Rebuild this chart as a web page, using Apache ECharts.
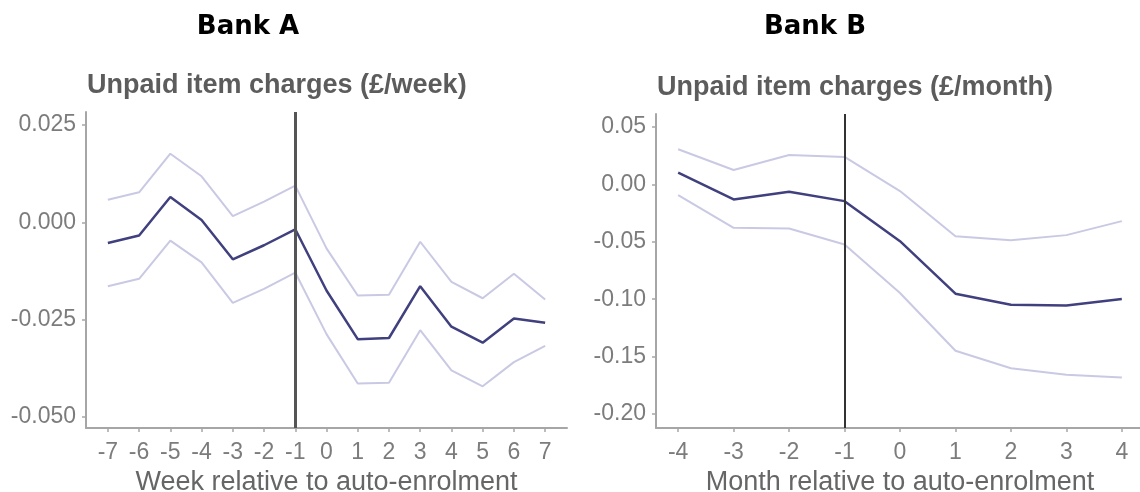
<!DOCTYPE html>
<html>
<head>
    <meta charset="utf-8">
    <title>Unpaid item charges</title>
    <script src="https://cdn.jsdelivr.net/npm/echarts@6.0.0/dist/echarts.min.js"></script>
    <style>
        html, body { margin: 0; padding: 0; background: #fff; }
        #main { width: 1140px; height: 492px; }
    </style>
</head>
<body>
<div id="main"></div>
<script type="text/javascript">
    // Bank A: weekly estimates with upper / lower bands
    var weeksA = [-7, -6, -5, -4, -3, -2, -1, 0, 1, 2, 3, 4, 5, 6, 7];
    var estA   = [-0.0053, -0.0034, 0.0065, 0.0006, -0.0095, -0.0059, -0.0018, -0.0175, -0.0300, -0.0297, -0.0164, -0.0268, -0.0309, -0.0247, -0.0258];
    var upperA = [0.0058, 0.0077, 0.0176, 0.0118, 0.0016, 0.0053, 0.0094, -0.0067, -0.0188, -0.0186, -0.0050, -0.0153, -0.0195, -0.0132, -0.0198];
    var lowerA = [-0.0164, -0.0145, -0.0047, -0.0103, -0.0207, -0.0171, -0.0129, -0.0287, -0.0414, -0.0412, -0.0277, -0.0380, -0.0421, -0.0359, -0.0317];
    var yTicksA = [0.025, 0, -0.025, -0.05];

    // Bank B: monthly estimates with upper / lower bands
    var monthsB = [-4, -3, -2, -1, 0, 1, 2, 3, 4];
    var estB   = [0.0102, -0.0131, -0.0064, -0.0146, -0.0495, -0.0952, -0.1048, -0.1056, -0.0998];
    var upperB = [0.0306, 0.0125, 0.0256, 0.0239, -0.0058, -0.0451, -0.0486, -0.0442, -0.0320];
    var lowerB = [-0.0093, -0.0378, -0.0384, -0.0524, -0.0946, -0.1449, -0.1601, -0.1659, -0.1682];
    var yTicksB = [0.05, 0, -0.05, -0.10, -0.15, -0.20];

    var eventX = -1;

    var axisGrey = '#a6a6a6';
    var labelGrey = '#7c7c7c';

    function pairs(xs, ys) {
        return xs.map(function (x, i) { return [x, ys[i]]; });
    }

    function xAxisCfg(idx, ticks, lim, name) {
        return {
            type: 'value', gridIndex: idx, min: -lim, max: lim,
            name: name, nameLocation: 'middle', nameGap: 39,
            nameTextStyle: { fontFamily: 'Liberation Sans', fontSize: 27, color: '#666' },
            splitLine: { show: false },
            axisLine: { onZero: false, lineStyle: { color: axisGrey, width: 2 } },
            axisTick: { customValues: ticks, length: 4, lineStyle: { color: axisGrey, width: 1.5 } },
            axisLabel: {
                customValues: ticks, margin: 13,
                fontFamily: 'Liberation Sans', fontSize: 23, color: labelGrey
            }
        };
    }

    function yAxisCfg(idx, ticks, min, max, digits) {
        return {
            type: 'value', gridIndex: idx, min: min, max: max,
            splitLine: { show: false },
            axisLine: { show: true, onZero: false, lineStyle: { color: axisGrey, width: 2 } },
            axisTick: { show: true, customValues: ticks, length: 4, lineStyle: { color: axisGrey, width: 1.5 } },
            axisLabel: {
                customValues: ticks, margin: 10,
                fontFamily: 'Liberation Sans', fontSize: 23, color: labelGrey,
                formatter: function (v) { return v.toFixed(digits); }
            }
        };
    }

    function bandSeries(idx, data) {
        return {
            type: 'line', xAxisIndex: idx, yAxisIndex: idx, data: data,
            symbol: 'none', lineStyle: { color: '#c9c9e4', width: 2 }
        };
    }

    function estSeries(idx, data, vColor, vWidth) {
        return {
            type: 'line', xAxisIndex: idx, yAxisIndex: idx, data: data,
            symbol: 'none', lineStyle: { color: '#40407f', width: 2.5 },
            z: 3,
            markLine: {
                silent: true, symbol: ['none', 'none'], label: { show: false },
                lineStyle: { color: vColor, width: vWidth, type: 'solid' },
                data: [{ xAxis: eventX }]
            }
        };
    }

    var myChart = echarts.init(document.getElementById('main'));

    myChart.setOption({
        animation: false,
        backgroundColor: '#fff',
        graphic: [
            { type: 'text', x: 248, y: 27, style: { text: 'Bank A', font: 'bold 26px "DejaVu Sans"', fill: '#000', textAlign: 'center', textVerticalAlign: 'middle' } },
            { type: 'text', x: 815, y: 27, style: { text: 'Bank B', font: 'bold 26px "DejaVu Sans"', fill: '#000', textAlign: 'center', textVerticalAlign: 'middle' } },
            { type: 'text', x: 87, y: 86, style: { text: 'Unpaid item charges (£/week)', font: 'bold 27px "Liberation Sans"', fill: '#5c5c5c', textAlign: 'left', textVerticalAlign: 'middle' } },
            { type: 'text', x: 657, y: 88, style: { text: 'Unpaid item charges (£/month)', font: 'bold 27px "Liberation Sans"', fill: '#5c5c5c', textAlign: 'left', textVerticalAlign: 'middle' } }
        ],
        grid: [
            { left: 86, top: 112, width: 481, height: 316, outerBoundsMode: 'none' },
            { left: 656, top: 114, width: 488, height: 314, outerBoundsMode: 'none' }
        ],
        xAxis: [
            xAxisCfg(0, weeksA, 7.7, 'Week relative to auto-enrolment'),
            xAxisCfg(1, monthsB, 4.4, 'Month relative to auto-enrolment')
        ],
        yAxis: [
            yAxisCfg(0, yTicksA, -0.0528, 0.0283, 3),
            yAxisCfg(1, yTicksB, -0.2122, 0.0613, 2)
        ],
        series: [
            bandSeries(0, pairs(weeksA, upperA)),
            bandSeries(0, pairs(weeksA, lowerA)),
            estSeries(0, pairs(weeksA, estA), '#555', 3),
            bandSeries(1, pairs(monthsB, upperB)),
            bandSeries(1, pairs(monthsB, lowerB)),
            estSeries(1, pairs(monthsB, estB), '#333', 2)
        ]
    });
</script>
</body>
</html>
